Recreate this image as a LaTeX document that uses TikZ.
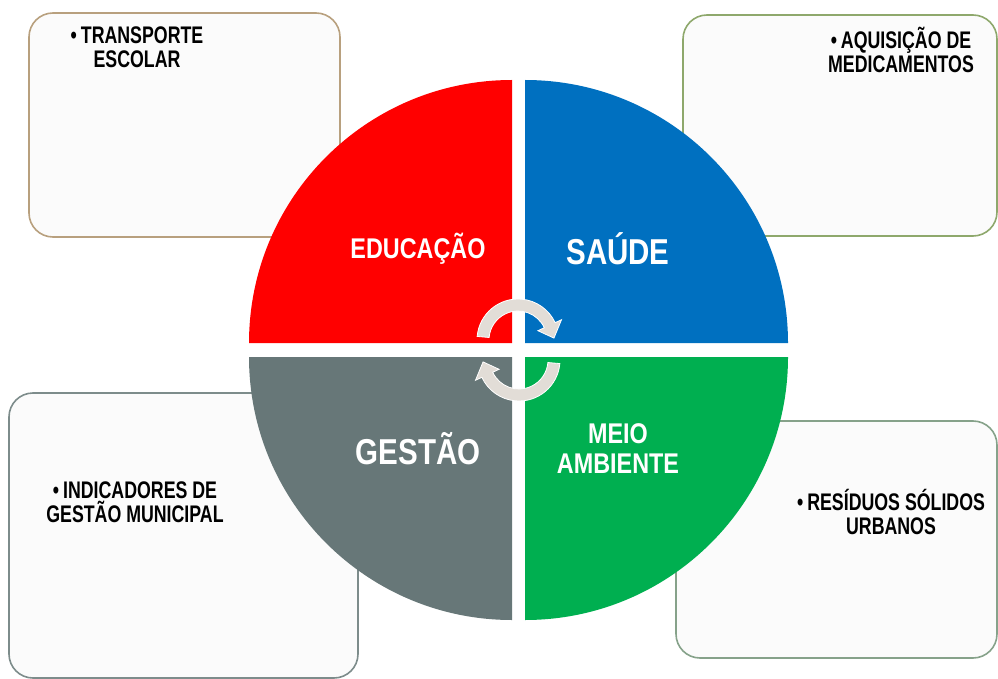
\documentclass[tikz,border=0pt]{standalone}
\usepackage{fontspec}
\setmainfont{Liberation Sans}
\newfontfamily\quadfont[FakeStretch=0.82]{Liberation Sans Bold}
\newfontfamily\notefont[FakeStretch=0.74]{Liberation Sans Bold}
\usetikzlibrary{calc}
\definecolor{edured}{HTML}{FF0000}
\definecolor{saudeblue}{HTML}{0070C0}
\definecolor{gestaogray}{HTML}{677778}
\definecolor{meiogreen}{HTML}{00AF50}
\definecolor{boxfill}{HTML}{FBFBFB}
\definecolor{tanline}{HTML}{B8A07E}
\definecolor{oliveline}{HTML}{8EA86C}
\definecolor{slateline}{HTML}{7D8C8B}
\definecolor{sageline}{HTML}{86A28A}
\definecolor{arrowfill}{HTML}{E2DDD7}

\begin{document}
\begin{tikzpicture}[x=1pt,y=-1pt,
  panel/.style={rounded corners=24pt,line width=1.6pt,fill=boxfill},
  quadlabel/.style={text=white,align=center,inner sep=0pt,
    font=\quadfont\fontsize{28.5}{30}\selectfont},
  biglabel/.style={quadlabel,font=\quadfont\fontsize{36}{38}\selectfont},
  note/.style={align=center,inner sep=0pt,
    font=\notefont\fontsize{24}{24}\selectfont},
  cyclearrow/.style={fill=arrowfill,draw=white,line width=0.8pt}]

\useasboundingbox (0,0) rectangle (998,679);

\draw[panel,draw=tanline] (29,13) rectangle (340,237);
\draw[panel,draw=oliveline] (683,15) rectangle (997,236);
\draw[panel,draw=slateline] (9,393) rectangle (358,678);
\draw[panel,draw=sageline] (676,421) rectangle (997,658);

\fill[edured] (512,343) -- (249,343) arc[start angle=180,end angle=270,radius=263] -- cycle;
\fill[saudeblue] (525,343) -- (525,80) arc[start angle=270,end angle=360,radius=263] -- cycle;
\fill[gestaogray] (512,357) -- (512,620) arc[start angle=90,end angle=180,radius=263] -- cycle;
\fill[meiogreen] (525,357) -- (788,357) arc[start angle=0,end angle=90,radius=263] -- cycle;

\coordinate (topturn) at (518,340);
\coordinate (lowturn) at (519,360);
\draw[cyclearrow] ($(topturn)+(185:41)$) arc[start angle=185,end angle=335,radius=41]
  -- ($(topturn)+(335:48)$) -- ($(topturn)+(357:36)$) -- ($(topturn)+(335:22)$)
  -- ($(topturn)+(335:29)$) arc[start angle=335,end angle=185,radius=29] -- cycle;
\draw[cyclearrow] ($(lowturn)+(5:41)$) arc[start angle=5,end angle=155,radius=41]
  -- ($(lowturn)+(155:48)$) -- ($(lowturn)+(177:36)$) -- ($(lowturn)+(155:22)$)
  -- ($(lowturn)+(155:29)$) arc[start angle=155,end angle=5,radius=29] -- cycle;

\node[quadlabel] (educacao) at (418,249) {EDUCAÇÃO};
\node[biglabel] (saude) at (618,249) {SAÚDE};
\node[biglabel] (gestao) at (418,449) {GESTÃO};
\node[quadlabel] (meioambiente) at (618,449) {MEIO\\AMBIENTE};

\node[note] (transporte) at (137,47) {\textbullet\,TRANSPORTE\\ESCOLAR};
\node[note] (aquisicao) at (901,50) {\textbullet\,AQUISIÇÃO DE\\MEDICAMENTOS};
\node[note] (indicadores) at (135,502) {\textbullet\,INDICADORES DE\\GESTÃO MUNICIPAL};
\node[note] (residuos) at (891,512) {\textbullet\,RESÍDUOS SÓLIDOS\\URBANOS};
\end{tikzpicture}
\end{document}
